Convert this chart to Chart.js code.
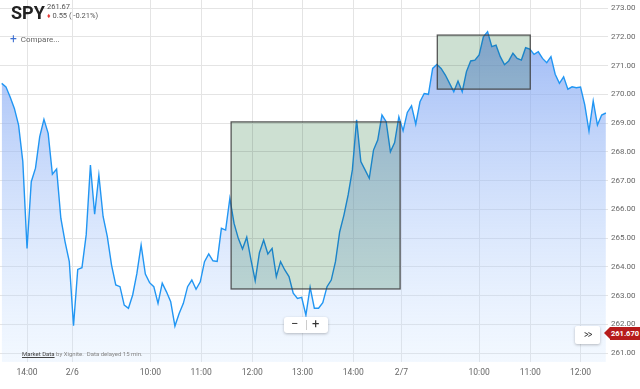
<!DOCTYPE html>
<html>
<head>
<meta charset="utf-8">
<script src="https://cdn.jsdelivr.net/npm/chart.js@4.4.1/dist/chart.umd.min.js"></script>
<style>
  body { margin: 0; background: #fff; font-family: Roboto, "Noto Sans", sans-serif; }
  #wrap { position: relative; width: 640px; height: 389px; overflow: hidden; }
  #chart { position: absolute; left: 0; top: 0; }
  .ov { position: absolute; white-space: nowrap; }
  #sym { left: 11px; top: 2px; font-size: 18px; font-weight: 700; color: #222; }
  #last { left: 47px; top: 2px; font-size: 7.5px; color: #555; }
  #chg { left: 47px; top: 11px; font-size: 7.5px; color: #555; }
  #chg span { color: #e53935; font-size: 7px; }
  #cmp { left: 10px; top: 31px; font-size: 8px; color: #666; }
  #cmp b { color: #3d6fd1; font-size: 12px; font-weight: 400; position: relative; top: 1px; margin-right: 4px; }
  #src { left: 22px; top: 350px; font-size: 6px; color: #888; }
  #src u { color: #444; }
  #zoomBtns { left: 284px; top: 317px; width: 44px; height: 16px; background: #fff; border-radius: 3px;
    box-shadow: 0 1px 3px rgba(0,0,0,0.25); font-size: 13px; color: #333; }
  #zoomBtns .m { position: absolute; left: 7px; top: -1px; }
  #zoomBtns .p { position: absolute; left: 28px; top: -1px; }
  #zoomBtns .sep { position: absolute; left: 22px; top: 3px; width: 1px; height: 10px; background: #ccc; }
  #more { left: 575px; top: 326px; width: 25px; height: 18px; background: #fff; border-radius: 2px;
    box-shadow: 0 1px 3px rgba(0,0,0,0.25); font-size: 11px; color: #333; text-align: center; line-height: 18px; }
  #more span { display: inline-block; letter-spacing: -1px; transform: scaleX(0.8); }
  #tag { left: 610px; top: 327px; width: 30px; height: 13px; background: #b71c1c; color: #fff;
    font-size: 7.5px; font-weight: 700; line-height: 13px; text-align: center; }
  #tagTip { left: 604px; top: 327px; width: 0; height: 0; border-top: 6.5px solid transparent;
    border-bottom: 6.5px solid transparent; border-right: 6px solid #b71c1c; }
</style>
</head>
<body>
<div id="wrap">
  <canvas id="chart" width="640" height="389"></canvas>
  <div class="ov" id="sym">SPY</div>
  <div class="ov" id="last">261.67</div>
  <div class="ov" id="chg"><span>&#9830;</span> 0.55 ( -0.21%)</div>
  <div class="ov" id="cmp"><b>+</b>Compare...</div>
  <div class="ov" id="src"><u>Market Data</u> by Xignite.&nbsp; Data delayed 15 min.</div>
  <div class="ov" id="zoomBtns"><span class="m">&minus;</span><span class="sep"></span><span class="p">+</span></div>
  <div class="ov" id="more"><span>&gt;&gt;</span></div>
  <div class="ov" id="tagTip"></div>
  <div class="ov" id="tag">261.670</div>
</div>
<script>
// SPY 5-minute closes, one per slot (slot = x position on the time axis)
const prices = [
  270.38, 270.26, 269.91, 269.51, 268.93, 267.66, 264.64, 266.96, 267.43, 268.53,
  269.13, 268.64, 267.22, 267.40, 265.69, 264.87, 264.18, 261.95, 263.91, 263.97,
  265.11, 267.54, 265.83, 267.19, 265.75, 265.05, 264.06, 263.37, 263.31, 262.67,
  262.56, 263.02, 263.77, 264.76, 263.75, 263.45, 263.31, 262.73, 263.43, 263.13,
  262.79, 261.94, 262.38, 262.73, 263.31, 263.54, 263.22, 263.48, 264.18, 264.45,
  264.21, 264.19, 265.34, 265.28, 266.38, 265.51, 264.99, 264.62, 265.03, 264.24,
  263.52, 264.49, 264.93, 264.45, 264.64, 263.66, 264.18, 263.89, 263.66, 263.08,
  262.90, 262.94, 262.32, 263.29, 262.56, 262.56, 262.75, 263.31, 263.54, 264.18,
  265.22, 265.80, 266.50, 267.37, 269.11, 267.66, 267.37, 267.08, 268.06, 268.41,
  269.28, 269.05, 268.00, 268.32, 269.22, 268.73, 269.37, 269.60, 268.96, 269.74,
  270.03, 270.00, 270.90, 271.04, 270.90, 270.67, 270.38, 270.09, 270.46, 270.09,
  270.79, 271.16, 271.19, 271.37, 272.00, 272.18, 271.66, 271.71, 271.31, 271.03,
  271.16, 271.43, 271.25, 271.19, 271.62, 271.57, 271.39, 271.48, 271.25, 271.10,
  271.31, 270.70, 270.38, 270.61, 270.18, 270.26, 270.23, 270.25, 269.63, 268.72,
  269.77, 268.93, 269.28, 269.35
];

// time axis labels and where they sit (in slots)
const xTickPos = [6, 16.7, 35.2, 47.2, 59.3, 71.2, 83.2, 94.6, 113, 125.1, 137];
const xTickLabels = ['14:00', '2/6', '10:00', '11:00', '12:00', '13:00', '14:00', '2/7', '10:00', '11:00', '12:00'];

// price axis
const yTicks = [261, 262, 263, 264, 265, 266, 267, 268, 269, 270, 271, 272, 273];

// highlighted boxes: [xStart, xEnd, yTop, yBottom]
const boxes = [
  [54.3, 94.3, 269.04, 263.23],
  [103.1, 125.1, 272.06, 270.18]
];

const points = prices.map((p, i) => ({ x: i, y: p }));

const boxPlugin = {
  id: 'boxes',
  afterDatasetsDraw(chart) {
    const { ctx, scales: { x, y } } = chart;
    ctx.save();
    boxes.forEach(b => {
      const x1 = x.getPixelForValue(b[0]), x2 = x.getPixelForValue(b[1]);
      const y1 = y.getPixelForValue(b[2]), y2 = y.getPixelForValue(b[3]);
      ctx.globalCompositeOperation = 'multiply';
      ctx.fillStyle = 'rgb(205,224,210)';
      ctx.fillRect(x1, y1, x2 - x1, y2 - y1);
      ctx.globalCompositeOperation = 'source-over';
      ctx.strokeStyle = 'rgba(60,60,60,0.85)';
      ctx.lineWidth = 1.3;
      ctx.strokeRect(x1, y1, x2 - x1, y2 - y1);
    });
    ctx.restore();
  }
};

const ctx = document.getElementById('chart').getContext('2d');

new Chart(ctx, {
  type: 'line',
  data: {
    datasets: [{
      data: points,
      borderColor: 'rgb(33,150,243)',
      borderWidth: 1.4,
      pointRadius: 0,
      tension: 0,
      fill: 'start',
      backgroundColor: (c) => {
        const area = c.chart.chartArea;
        if (!area) return 'rgba(150,190,245,0.5)';
        const g = c.chart.ctx.createLinearGradient(0, area.top, 0, area.bottom);
        g.addColorStop(0, 'rgba(110,150,240,0.75)');
        g.addColorStop(1, 'rgba(205,228,255,0.25)');
        return g;
      }
    }]
  },
  options: {
    responsive: false,
    animation: false,
    layout: { padding: 0 },
    plugins: { legend: { display: false }, tooltip: { enabled: false } },
    scales: {
      x: {
        type: 'linear',
        min: -0.4,
        max: 143.5,
        afterBuildTicks: (axis) => { axis.ticks = xTickPos.map(v => ({ value: v })); },
        afterFit: (axis) => { axis.height = 27; axis.paddingLeft = 0; axis.paddingRight = 0; },
        grid: { color: '#e4e4e4', drawTicks: false },
        border: { display: false },
        ticks: {
          autoSkip: false,
          maxRotation: 0,
          padding: 6,
          color: '#666',
          font: { family: 'Roboto', size: 8.5 },
          callback: (v, i) => xTickLabels[i]
        }
      },
      y: {
        position: 'right',
        min: 260.69,
        max: 273.28,
        afterBuildTicks: (axis) => { axis.ticks = yTicks.map(v => ({ value: v })); },
        afterFit: (axis) => { axis.width = 32; axis.paddingTop = 0; axis.paddingBottom = 0; },
        grid: { color: '#e4e4e4', drawTicks: false },
        border: { display: false },
        ticks: {
          padding: 3,
          color: '#666',
          font: { family: 'Roboto', size: 8 },
          callback: (v) => v.toFixed(2)
        }
      }
    }
  },
  plugins: [boxPlugin]
});
</script>
</body>
</html>
